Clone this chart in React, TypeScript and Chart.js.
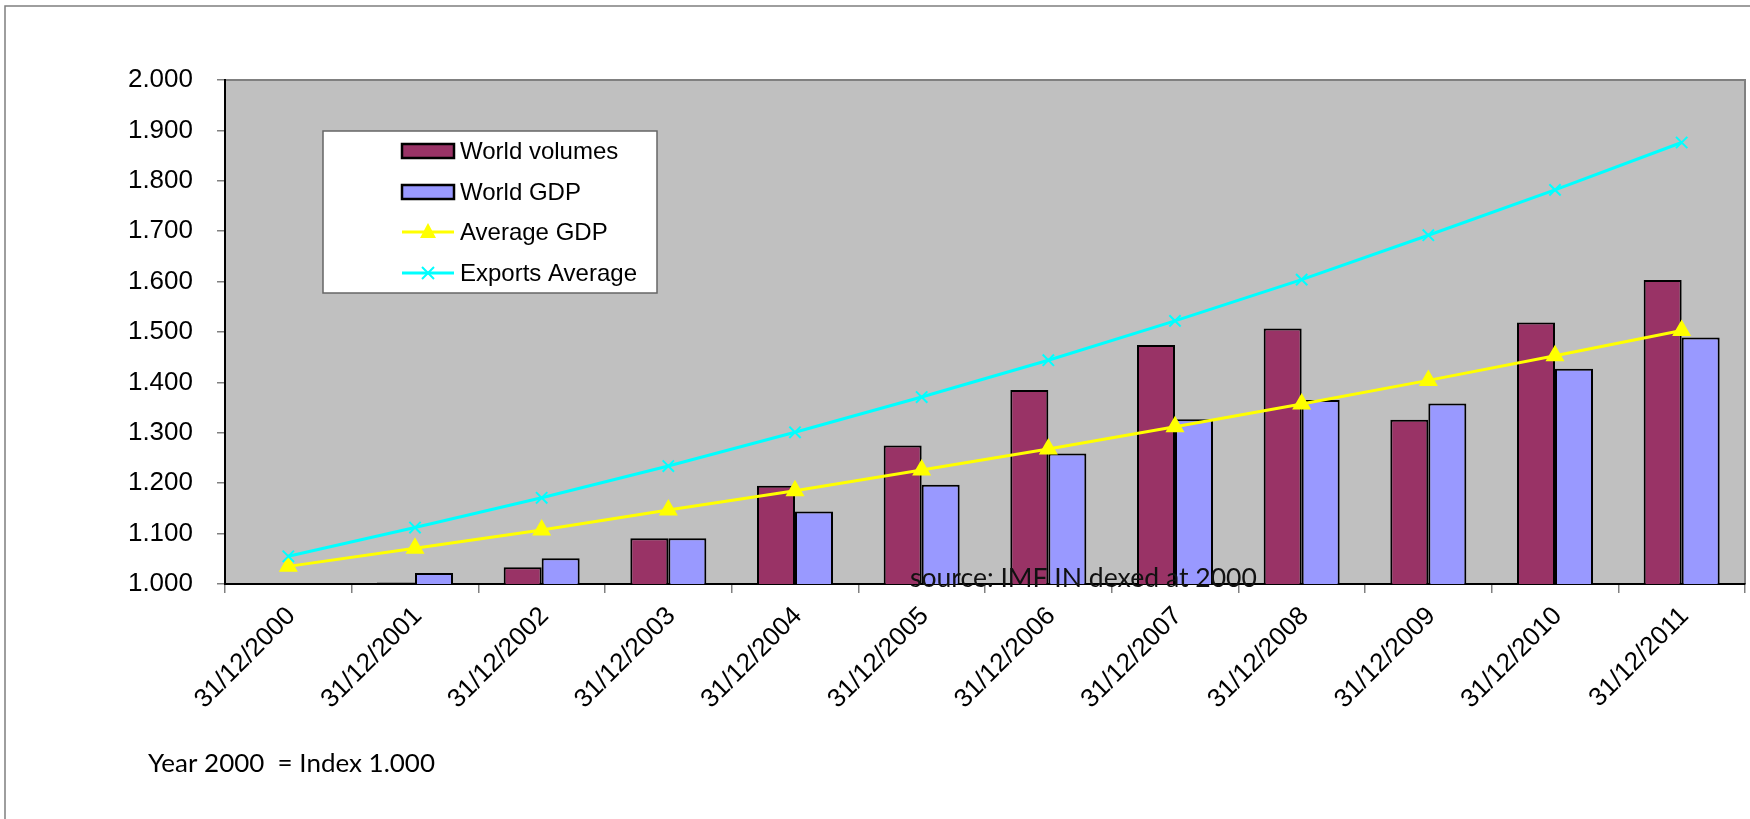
import React, { useEffect, useRef } from "react";
import { Chart, registerables } from "chart.js";

Chart.register(...registerables);

const categories = [
  "31/12/2000", "31/12/2001", "31/12/2002", "31/12/2003", "31/12/2004", "31/12/2005",
  "31/12/2006", "31/12/2007", "31/12/2008", "31/12/2009", "31/12/2010", "31/12/2011",
];
const worldVolumes = [null, 1.003, 1.033, 1.091, 1.195, 1.275, 1.385, 1.474, 1.507, 1.326, 1.519, 1.603];
const worldGDP = [null, 1.022, 1.051, 1.091, 1.144, 1.197, 1.259, 1.327, 1.365, 1.358, 1.427, 1.489];
const averageGDP = [1.035, 1.071, 1.107, 1.147, 1.185, 1.226, 1.268, 1.312, 1.357, 1.404, 1.453, 1.503];
const exportsAverage = [1.055, 1.112, 1.171, 1.234, 1.301, 1.371, 1.444, 1.522, 1.604, 1.692, 1.782, 1.876];
const yMin = 1.0;
const yMax = 2.0;
const yStep = 0.1;
const seriesNames = ["World volumes", "World GDP", "Average GDP", "Exports Average"];
const sourceNote = "source: IMF IN dexed at 2000";
const indexNote = "Year 2000  = Index 1.000";

const AXIS_FONT = "'Liberation Sans', Arial, sans-serif";
const NOTE_FONT = "Lato, 'Open Sans', sans-serif";

function fitText(ctx: CanvasRenderingContext2D, text: string, x: number, y: number, width: number, size: number) {
  ctx.font = `${size}px ${NOTE_FONT}`;
  const w = ctx.measureText(text).width;
  const s = (size * width) / w;
  ctx.font = `${s}px ${NOTE_FONT}`;
  ctx.fillText(text, x, y);
}

const decorPlugin = {
  id: "decor",
  beforeDraw(chart: any) {
    const { ctx, chartArea } = chart;
    ctx.save();
    ctx.fillStyle = "#ffffff";
    ctx.fillRect(0, 0, chart.width, chart.height);
    ctx.strokeStyle = "#7f7f7f";
    ctx.lineWidth = 1.5;
    ctx.beginPath();
    ctx.moveTo(5, chart.height);
    ctx.lineTo(5, 6);
    ctx.lineTo(chart.width, 6);
    ctx.stroke();
    ctx.fillStyle = "#c0c0c0";
    ctx.fillRect(chartArea.left, chartArea.top, chartArea.right - chartArea.left, chartArea.bottom - chartArea.top);
    ctx.strokeStyle = "#808080";
    ctx.lineWidth = 2;
    ctx.beginPath();
    ctx.moveTo(chartArea.left, chartArea.top);
    ctx.lineTo(chartArea.right, chartArea.top);
    ctx.lineTo(chartArea.right, chartArea.bottom);
    ctx.stroke();
    ctx.restore();
  },
  afterDraw(chart: any) {
    const { ctx } = chart;
    ctx.save();
    const lx = 323, ly = 131, lw = 334, lh = 162;
    ctx.fillStyle = "#ffffff";
    ctx.fillRect(lx, ly, lw, lh);
    ctx.strokeStyle = "#666666";
    ctx.lineWidth = 1.5;
    ctx.strokeRect(lx, ly, lw, lh);
    const rows = [151, 192, 232, 273];
    const sx0 = 402, sx1 = 454;
    const ds = chart.data.datasets;
    ds.forEach((d: any, i: number) => {
      const y = rows[i];
      if (d.type === "bar") {
        ctx.fillStyle = d.backgroundColor;
        ctx.fillRect(sx0, y - 7, sx1 - sx0, 14);
        ctx.strokeStyle = "#000";
        ctx.lineWidth = 2.5;
        ctx.strokeRect(sx0, y - 7, sx1 - sx0, 14);
      } else {
        ctx.strokeStyle = d.borderColor;
        ctx.lineWidth = 3;
        ctx.beginPath();
        ctx.moveTo(sx0, y);
        ctx.lineTo(sx1, y);
        ctx.stroke();
        const cx = (sx0 + sx1) / 2;
        if (d.pointStyle === "triangle") {
          ctx.fillStyle = d.pointBackgroundColor;
          ctx.beginPath();
          ctx.moveTo(cx, y - 9);
          ctx.lineTo(cx + 8, y + 6);
          ctx.lineTo(cx - 8, y + 6);
          ctx.closePath();
          ctx.fill();
        } else {
          ctx.lineWidth = 2;
          ctx.beginPath();
          ctx.moveTo(cx - 6, y - 6);
          ctx.lineTo(cx + 6, y + 6);
          ctx.moveTo(cx + 6, y - 6);
          ctx.lineTo(cx - 6, y + 6);
          ctx.stroke();
        }
      }
      ctx.fillStyle = "#000";
      ctx.font = `24px ${AXIS_FONT}`;
      ctx.textBaseline = "middle";
      ctx.textAlign = "left";
      ctx.fillText(d.label, 460, y + 1);
    });
    ctx.fillStyle = "#111";
    ctx.textBaseline = "alphabetic";
    ctx.textAlign = "left";
    fitText(ctx, sourceNote, 910, 587, 347, 26);
    ctx.fillStyle = "#000";
    fitText(ctx, indexNote, 148, 772, 287, 26);
    ctx.restore();
  },
};

export default function App() {
  const ref = useRef<HTMLCanvasElement | null>(null);
  useEffect(() => {
    if (!ref.current) return;
    const yTickValues: number[] = [];
    for (let v = yMin; v <= yMax + 1e-9; v += yStep) yTickValues.push(Math.round(v * 1000) / 1000);
    const chart = new Chart(ref.current, {
      type: "bar",
      data: {
        labels: categories,
        datasets: [
          { type: "bar", label: seriesNames[0], data: worldVolumes, backgroundColor: "#993366", borderColor: "#000000", borderWidth: 2, order: 2 },
          { type: "bar", label: seriesNames[1], data: worldGDP, backgroundColor: "#9999ff", borderColor: "#000000", borderWidth: 2, order: 2 },
          {
            type: "line", label: seriesNames[2], data: averageGDP,
            borderColor: "#ffff00", backgroundColor: "#ffff00", pointBackgroundColor: "#ffff00", pointBorderColor: "#ffff00",
            pointStyle: "triangle", pointRadius: 8, borderWidth: 3, tension: 0, order: 1,
          },
          {
            type: "line", label: seriesNames[3], data: exportsAverage,
            borderColor: "#00ffff", backgroundColor: "#00ffff", pointBackgroundColor: "#00ffff", pointBorderColor: "#00ffff",
            pointStyle: "crossRot", pointRadius: 8, pointBorderWidth: 2, borderWidth: 3, tension: 0, order: 0,
          },
        ] as any,
      },
      options: {
        responsive: false,
        animation: false,
        devicePixelRatio: 1,
        layout: { autoPadding: false, padding: { top: 80, right: 5, left: 0, bottom: 0 } },
        plugins: { legend: { display: false }, tooltip: { enabled: false } },
        datasets: { bar: { categoryPercentage: 0.6, barPercentage: 1.0, borderSkipped: "start" } },
        scales: {
          x: {
            offset: true,
            grid: { display: true, drawOnChartArea: false, offset: true, tickLength: 9, color: "#808080", lineWidth: 1.5 },
            border: { display: true, color: "#000", width: 2 },
            ticks: {
              autoSkip: false, maxRotation: 45, minRotation: 45, padding: 8, labelOffset: 3,
              color: "#000", font: { family: AXIS_FONT, size: 26 },
            },
            afterFit: (s: any) => { s.height = 235; s.paddingLeft = 0; s.paddingRight = 0; },
          },
          y: {
            min: yMin,
            max: yMax,
            grid: { display: true, drawOnChartArea: false, tickLength: 8, color: "#808080", lineWidth: 1.5 },
            border: { display: true, color: "#000", width: 2 },
            afterBuildTicks: (s: any) => { s.ticks = yTickValues.map((v) => ({ value: v })); },
            ticks: {
              padding: 24, color: "#000", font: { family: AXIS_FONT, size: 26 },
              callback: (v: any) => Number(v).toFixed(3),
            },
            afterFit: (s: any) => { s.width = 225; },
          },
        },
      } as any,
      plugins: [decorPlugin],
    });
    return () => chart.destroy();
  }, []);
  return (
    <div style={{ position: "absolute", left: 0, top: 0, width: 1750, height: 819, background: "#fff" }}>
      <canvas ref={ref} width={1750} height={819} style={{ width: 1750, height: 819, display: "block" }} />
    </div>
  );
}
